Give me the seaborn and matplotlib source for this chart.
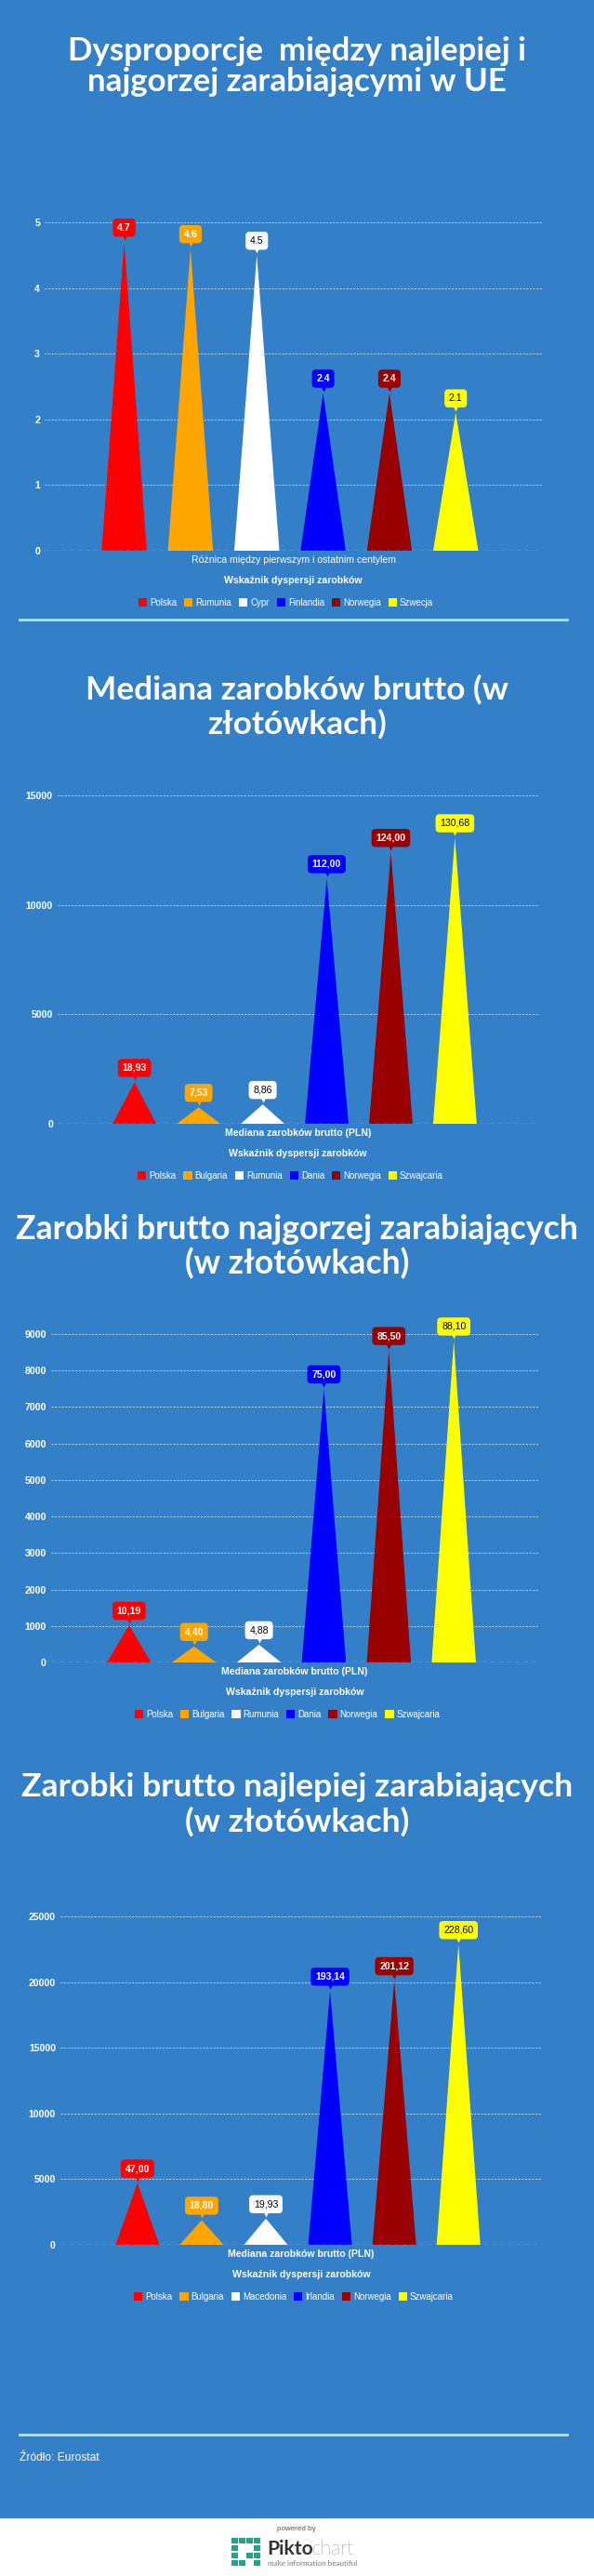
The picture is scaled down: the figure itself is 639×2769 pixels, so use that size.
import matplotlib
matplotlib.use("Agg")
import matplotlib.pyplot as plt
import seaborn as sns
import pandas as pd
from matplotlib.patches import Polygon, Rectangle, Patch
from matplotlib.lines import Line2D
from matplotlib.transforms import offset_copy

# ---------------- data ----------------
colors = ["#ff0000", "#ffa500", "#ffffff", "#0000ff", "#990000", "#ffff00"]

c1_countries = ["Polska", "Rumunia", "Cypr", "Finlandia", "Norwegia", "Szwecja"]
c1_values = [4.7, 4.6, 4.5, 2.4, 2.4, 2.1]
c1_labels = ["4.7", "4.6", "4.5", "2.4", "2.4", "2.1"]
c1_ticks = [0, 1, 2, 3, 4, 5]

c2_countries = ["Polska", "Bulgaria", "Rumunia", "Dania", "Norwegia", "Szwajcaria"]
c2_values = [1893, 753, 886, 11200, 12400, 13068]
c2_labels = ["18,93", "7,53", "8,86", "112,00", "124,00", "130,68"]
c2_ticks = [0, 5000, 10000, 15000]

c3_countries = ["Polska", "Bulgaria", "Rumunia", "Dania", "Norwegia", "Szwajcaria"]
c3_values = [1019, 440, 488, 7500, 8550, 8810]
c3_labels = ["10,19", "4,40", "4,88", "75,00", "85,50", "88,10"]
c3_ticks = [0, 1000, 2000, 3000, 4000, 5000, 6000, 7000, 8000, 9000]

c4_countries = ["Polska", "Bulgaria", "Macedonia", "Irlandia", "Norwegia", "Szwajcaria"]
c4_values = [4700, 1880, 1993, 19314, 20112, 22860]
c4_labels = ["47,00", "18,80", "19,93", "193,14", "201,12", "228,60"]
c4_ticks = [0, 5000, 10000, 15000, 20000, 25000]

titles = [
    ["Dysproporcje  między najlepiej i", "najgorzej zarabiającymi w UE"],
    ["Mediana zarobków brutto (w", "złotówkach)"],
    ["Zarobki brutto najgorzej zarabiających", "(w złotówkach)"],
    ["Zarobki brutto najlepiej zarabiających", "(w złotówkach)"],
]
xlabels = ["Różnica między pierwszym i ostatnim centylem",
           "Mediana zarobków brutto (PLN)",
           "Mediana zarobków brutto (PLN)",
           "Mediana zarobków brutto (PLN)"]
axis_title = "Wskaźnik dyspersji zarobków"
source = "Źródło: Eurostat"

# ---------------- layout ----------------
W, H, DPI = 639, 2769, 100
BG = "#3380c8"
SANS = "Liberation Sans"
fig = plt.figure(figsize=(W / DPI, H / DPI), dpi=DPI, facecolor=BG)
renderer = fig.canvas.get_renderer()


def fy(py):
    return 1 - py / H


def fx(px):
    return px / W


def pt(px):
    return px * 72 / DPI


def fit_title(lines, ys, target_w):
    t = fig.text(0.5, fy(ys[0]), lines[0], ha="center", va="center", fontsize=20,
                 family="Lato", fontweight="bold", color="white")
    w = t.get_window_extent(renderer).width
    fs = 20 * target_w / w
    t.set_fontsize(fs)
    fig.text(0.5, fy(ys[1]), lines[1], ha="center", va="center", fontsize=fs,
             family="Lato", fontweight="bold", color="white")


def draw_chart(box, countries, values, labels, ticks, xlabel, label_bold_x):
    left, right, top, bottom = box
    ax = fig.add_axes([fx(left), fy(bottom), (right - left) / W, (bottom - top) / H])
    df = pd.DataFrame({"country": countries, "value": values})
    sns.barplot(data=df, x="country", y="value", hue="country",
                palette=dict(zip(countries, colors)), width=0.68, saturation=1,
                legend=False, ax=ax, errorbar=None)
    for p in list(ax.patches):
        x0, w, h = p.get_x(), p.get_width(), p.get_height()
        tri = Polygon([(x0, 0), (x0 + w / 2, h), (x0 + w, 0)], closed=True,
                      fc=p.get_facecolor(), ec="none", zorder=3)
        p.remove()
        ax.add_patch(tri)
    ax.set_xlim(-1.2, 6.3)
    ax.set_ylim(0, ticks[-1])
    ax.set_yticks(ticks)
    ax.set_xticks([])
    ax.set_xlabel("")
    ax.set_ylabel("")
    ax.set_facecolor("none")
    for s in ax.spines.values():
        s.set_visible(False)
    ax.tick_params(axis="y", length=0, pad=pt(5), labelcolor="white", labelsize=pt(10.5))
    for t in ax.get_yticklabels():
        t.set_fontweight("bold")
        t.set_family(SANS)
    for t in ticks[1:]:
        ax.axhline(t, color="white", lw=0.75, ls=(0, (2, 1.5)), alpha=0.65, zorder=1)
    ax.axhline(0, color="white", lw=0.9, ls=(0, (4, 3)), alpha=0.85, zorder=4)

    for i, (v, lab) in enumerate(zip(values, labels)):
        col = colors[i]
        light = col in ("#ffffff", "#ffff00")
        ax.annotate(lab, xy=(i, v), xytext=(0, 15.5), textcoords="offset pixels",
                    ha="center", va="center", fontsize=pt(10.5),
                    color="black" if light else "white",
                    fontweight="normal" if light else "bold", family=SANS,
                    bbox=dict(boxstyle="round,pad=0.45,rounding_size=0.4", fc=col, ec="none"),
                    zorder=6, annotation_clip=False)
        ax.plot([i], [v], marker="v", ms=5, color=col, mec="none", ls="none",
                transform=offset_copy(ax.transData, fig=fig, x=0, y=5, units="dots"),
                zorder=6, clip_on=False)

    cx = (left + right) / 2
    fig.text(fx(cx), fy(bottom + 10), xlabel, ha="center", va="center", color="white",
             fontsize=pt(10.5), family=SANS, fontweight="bold" if label_bold_x else "normal")
    fig.text(fx(cx), fy(bottom + 32), axis_title, ha="center", va="center", color="white",
             fontsize=pt(10.5), family=SANS, fontweight="bold")
    handles = [Patch(fc=c, ec="none") for c in colors]
    fig.legend(handles, countries, loc="center", bbox_to_anchor=(fx(cx - 8), fy(bottom + 56)),
               ncol=6, frameon=False, prop={"family": SANS, "size": pt(9.8)},
               labelcolor="white", handlelength=0.95, handleheight=0.95,
               handletextpad=0.3, columnspacing=0.8, borderpad=0, borderaxespad=0)
    return ax


# titles
fit_title(titles[0], (55, 88), 495)
fit_title(titles[1], (741, 778), 454)
fit_title(titles[2], (1322, 1358), 604)
fit_title(titles[3], (1921, 1958), 592)

draw_chart((48, 583, 239, 592), c1_countries, c1_values, c1_labels, c1_ticks, xlabels[0], False)
draw_chart((62, 579, 855, 1208), c2_countries, c2_values, c2_labels, c2_ticks, xlabels[1], True)
draw_chart((55, 579, 1434, 1787), c3_countries, c3_values, c3_labels, c3_ticks, xlabels[2], True)
draw_chart((65, 583, 2060, 2413), c4_countries, c4_values, c4_labels, c4_ticks, xlabels[3], True)

# separators
for yy in (666, 2617):
    fig.add_artist(Line2D([fx(21), fx(610)], [fy(yy), fy(yy)], color="#b3e3fb", lw=2.0,
                          transform=fig.transFigure))

fig.text(fx(21), fy(2642), source, ha="left", va="center", color="white",
         fontsize=pt(12), family=SANS)

# footer
fig.add_artist(Rectangle((0, 0), 1, 62 / H, transform=fig.transFigure, fc="white", ec="none"))
fig.text(fx(319), fy(2718), "powered by", ha="center", va="center", color="#555555",
         fontsize=pt(8), family=SANS)
teal = "#19a68c"
cells = [(0, 0), (1, 0), (2, 0), (3, 0), (0, 1), (3, 1), (0, 2), (2, 2), (3, 2),
         (0, 3), (1, 3), (3, 3)]
for (cxi, cyi) in cells:
    fig.add_artist(Rectangle((fx(249 + cxi * 8), fy(2727 + cyi * 8 + 7)), 6.5 / W, 6.5 / H,
                             transform=fig.transFigure, fc=teal, ec="none"))
fig.text(fx(287), fy(2740), "Pikto", ha="left", va="center", color="#333333",
         fontsize=pt(21), family="Lato", fontweight="bold")
fig.text(fx(336), fy(2740), "chart", ha="left", va="center", color="#333333",
         fontsize=pt(21), family="Lato", fontweight="light")
fig.text(fx(288), fy(2755), "make information beautiful", ha="left", va="center",
         color="#777777", fontsize=pt(8), family="Lato")

fig.savefig("out.png", dpi=DPI, facecolor=BG)
